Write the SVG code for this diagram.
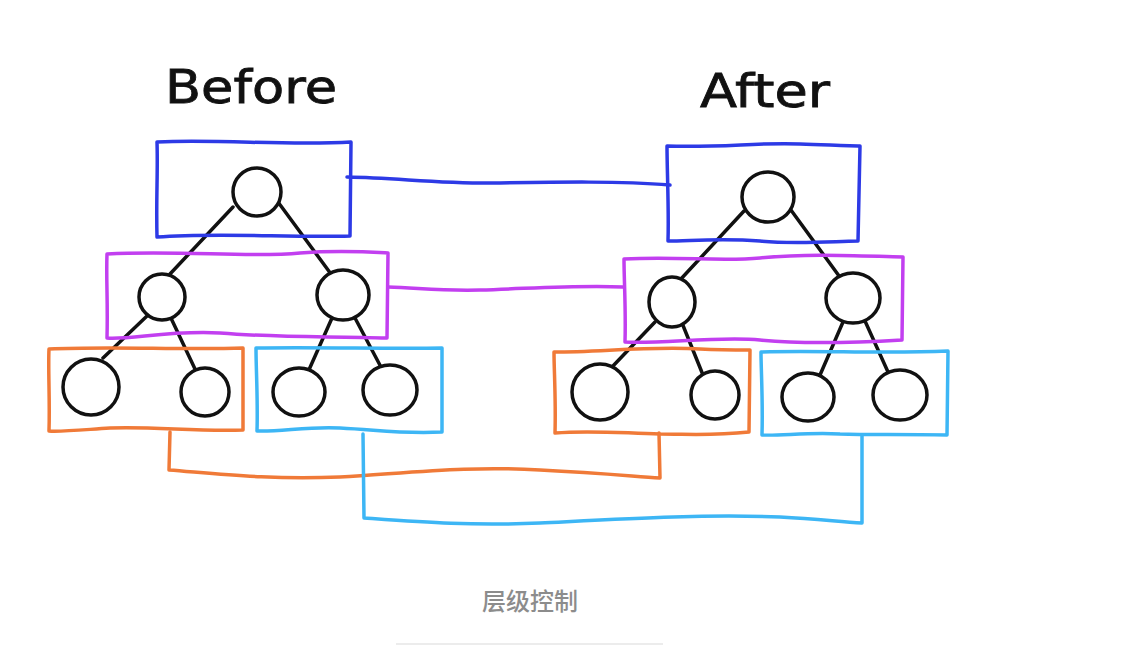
<svg xmlns="http://www.w3.org/2000/svg" width="1130" height="646" viewBox="0 0 1130 646">
<style>
.t{fill:none;stroke:#111;stroke-width:3.5;stroke-linecap:round;stroke-linejoin:round}
.c{fill:#fff;stroke:#111;stroke-width:3.5}
.bx{fill:none;stroke-width:3.5;stroke-linecap:round;stroke-linejoin:round}
.blue{stroke:#2d3ae6}
.purple{stroke:#c23ff0}
.orange{stroke:#f07a38}
.cyan{stroke:#3db6f5}
.title{font-family:"Comic Sans MS","DejaVu Sans",sans-serif;font-size:46px;fill:#111;stroke:#111;stroke-width:0.8}
.cap{font-family:"Noto Sans CJK SC",sans-serif;font-size:24px;font-weight:500;fill:#8c8c8c}
</style>
<rect width="1130" height="646" fill="#fff"/>
<text class="title" x="165" y="103" textLength="172" lengthAdjust="spacingAndGlyphs">Before</text>
<text class="title" x="700" y="107" textLength="130" lengthAdjust="spacingAndGlyphs">After</text>

<g id="connectors">
<path class="bx blue" d="M347,177 C400,178 440,184 500,183 C560,182 620,181 670,185"/>
<path class="bx purple" d="M388,287 C420,288 440,291 480,290 C540,288 580,285 623,287"/>
<path class="bx orange" d="M170,432 L169,470 C220,474 270,480 340,477 C420,472 470,466 540,470 C600,473 630,476 660,478 L659,433"/>
<path class="bx cyan" d="M363,434 L364,518 C420,522 470,526 540,523 C620,519 700,514 780,517 C820,519 840,522 862,523 L862,436"/>
</g>

<g id="before-tree">
<path class="t" d="M233,207 L170,274 M278,202 L331,274 M147,316 L103,358 M170,316 L195,369 M332,318 L308,372 M355,318 L382,369"/>
</g>
<g id="after-tree">
<path class="t" d="M744,211 L680,280 M788,206 L842,280 M655,322 L612,367 M680,318 L703,375 M843,322 L820,375 M865,321 L888,372"/>
</g>

<g id="before-blue">
<path class="bx blue" d="M157,142 C220,139 290,146 351,142 L350,236 C290,238 220,232 157,237 C156,200 158,170 157,142 Z"/>
<circle class="c" cx="257" cy="192" r="24"/>
</g>
<g id="before-purple">
<path class="bx purple" d="M107,254 C180,250 250,258 300,253 C340,250 370,252 388,253 L387,338 C330,336 280,338 220,333 C170,330 130,340 107,338 C108,300 106,280 107,254 Z"/>
<circle class="c" cx="162" cy="297" r="23"/>
<ellipse class="c" cx="343" cy="295" rx="26" ry="25"/>
</g>
<g id="before-orange">
<path class="bx orange" d="M49,349 C110,346 180,350 243,348 L243,430 C200,432 150,426 110,428 C80,430 60,432 49,431 C50,400 48,370 49,349 Z"/>
<ellipse class="c" cx="91" cy="387" rx="28" ry="28"/>
<ellipse class="c" cx="205" cy="392" rx="24" ry="24"/>
</g>
<g id="before-cyan">
<path class="bx cyan" d="M256,348 C320,347 390,349 442,348 L442,432 C400,434 380,430 340,428 C310,426 280,432 257,431 C258,400 256,370 256,348 Z"/>
<ellipse class="c" cx="299" cy="392" rx="26" ry="24"/>
<ellipse class="c" cx="390" cy="390" rx="27" ry="25"/>
</g>

<g id="after-blue">
<path class="bx blue" d="M667,146 C720,148 760,142 800,144 C830,145 850,146 860,146 L858,241 C820,242 790,244 760,241 C720,238 690,241 668,241 C669,210 667,170 667,146 Z"/>
<ellipse class="c" cx="768" cy="197" rx="26" ry="25"/>
</g>
<g id="after-purple">
<path class="bx purple" d="M624,259 C680,256 720,262 760,258 C810,253 860,256 903,257 L902,340 C850,343 800,344 760,340 C720,336 660,344 625,342 C626,310 624,280 624,259 Z"/>
<ellipse class="c" cx="672" cy="302" rx="23" ry="25"/>
<ellipse class="c" cx="853" cy="298" rx="27" ry="25"/>
</g>
<g id="after-orange">
<path class="bx orange" d="M554,352 C600,352 650,346 700,349 C720,350 740,350 750,350 L749,432 C710,436 690,434 660,434 C620,433 590,430 555,433 C556,400 554,370 554,352 Z"/>
<ellipse class="c" cx="600" cy="392" rx="28" ry="28"/>
<ellipse class="c" cx="715" cy="395" rx="24" ry="24"/>
</g>
<g id="after-cyan">
<path class="bx cyan" d="M761,352 C820,350 880,354 948,351 L947,435 C900,434 870,435 840,434 C810,432 780,436 762,435 C763,400 761,370 761,352 Z"/>
<ellipse class="c" cx="808" cy="397" rx="26" ry="24"/>
<ellipse class="c" cx="900" cy="395" rx="27" ry="25"/>
</g>

<g id="caption">
<text class="cap" x="530" y="610" text-anchor="middle">层级控制</text>
<line x1="396" y1="644" x2="663" y2="644" stroke="#ececec" stroke-width="2"/>
</g>
</svg>
